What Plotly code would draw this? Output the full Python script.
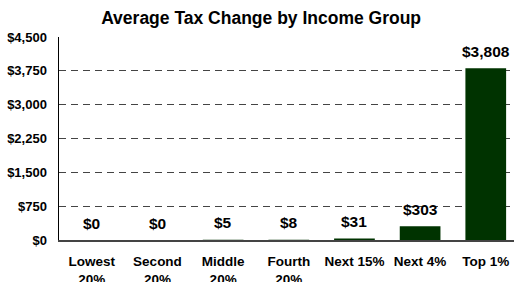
import plotly.graph_objects as go

categories = ["Lowest<br>20%", "Second<br>20%", "Middle<br>20%", "Fourth<br>20%", "Next 15%", "Next 4%", "Top 1%"]
values = [0, 0, 5, 8, 31, 303, 3808]
labels = ["$0", "$0", "$5", "$8", "$31", "$303", "$3,808"]
tick_vals = [0, 750, 1500, 2250, 3000, 3750, 4500]
tick_text = ["$0", "$750", "$1,500", "$2,250", "$3,000", "$3,750", "$4,500"]

FONT = "Arial, Liberation Sans, sans-serif"

fig = go.Figure()
fig.add_trace(go.Bar(
    x=list(range(len(categories))), y=values,
    marker=dict(color="#003300", line=dict(width=0)),
    width=0.62, hoverinfo="skip",
))

for i, (v, t) in enumerate(zip(values, labels)):
    fig.add_annotation(x=i, y=v, text=f"<b>{t}</b>", showarrow=False,
                       yanchor="middle", yshift=17,
                       font=dict(family=FONT, size=15.5, color="#000"))

fig.update_layout(
    template="none",
    width=514, height=282,
    margin=dict(l=59, r=0, t=37, b=42, autoexpand=False),
    paper_bgcolor="white", plot_bgcolor="white",
    showlegend=False,
    title=dict(text="<b>Average Tax Change by Income Group</b>",
               x=0.508, xanchor="center", y=1 - 18 / 282, yanchor="middle",
               font=dict(family=FONT, size=17.5, color="#000")),
    xaxis=dict(
        automargin=False,
        range=[-0.5, 6.43], tickmode="array",
        tickvals=list(range(len(categories))),
        ticktext=[f"<b>{c}</b>" for c in categories],
        tickfont=dict(family=FONT, size=13.5, color="#000"),
        showgrid=False, zeroline=False,
        showline=True, linecolor="#444", linewidth=2,
        ticks="outside", ticklen=8, tickcolor="rgba(0,0,0,0)",
        fixedrange=True,
    ),
    yaxis=dict(
        automargin=False,
        range=[0, 4500], tickmode="array", tickvals=tick_vals,
        ticktext=[f"<b>{t}</b>" for t in tick_text],
        tickfont=dict(family=FONT, size=13, color="#000"),
        showgrid=True, gridcolor="#444", gridwidth=1, griddash="7px,5px",
        zeroline=False,
        showline=True, linecolor="#000", linewidth=1.5,
        ticks="outside", ticklen=8, tickcolor="rgba(0,0,0,0)",
        fixedrange=True,
    ),
)

fig.write_html(
    "out.html",
    config={"displayModeBar": False, "staticPlot": True},
    post_script=(
        "document.body.style.margin='0';"
        "document.documentElement.style.overflow='hidden';"
        "document.body.style.overflow='hidden';"
        "var d=document.getElementById('{plot_id}');"
        "d.style.position='fixed';d.style.left='0';d.style.top='0';"
    ),
)
